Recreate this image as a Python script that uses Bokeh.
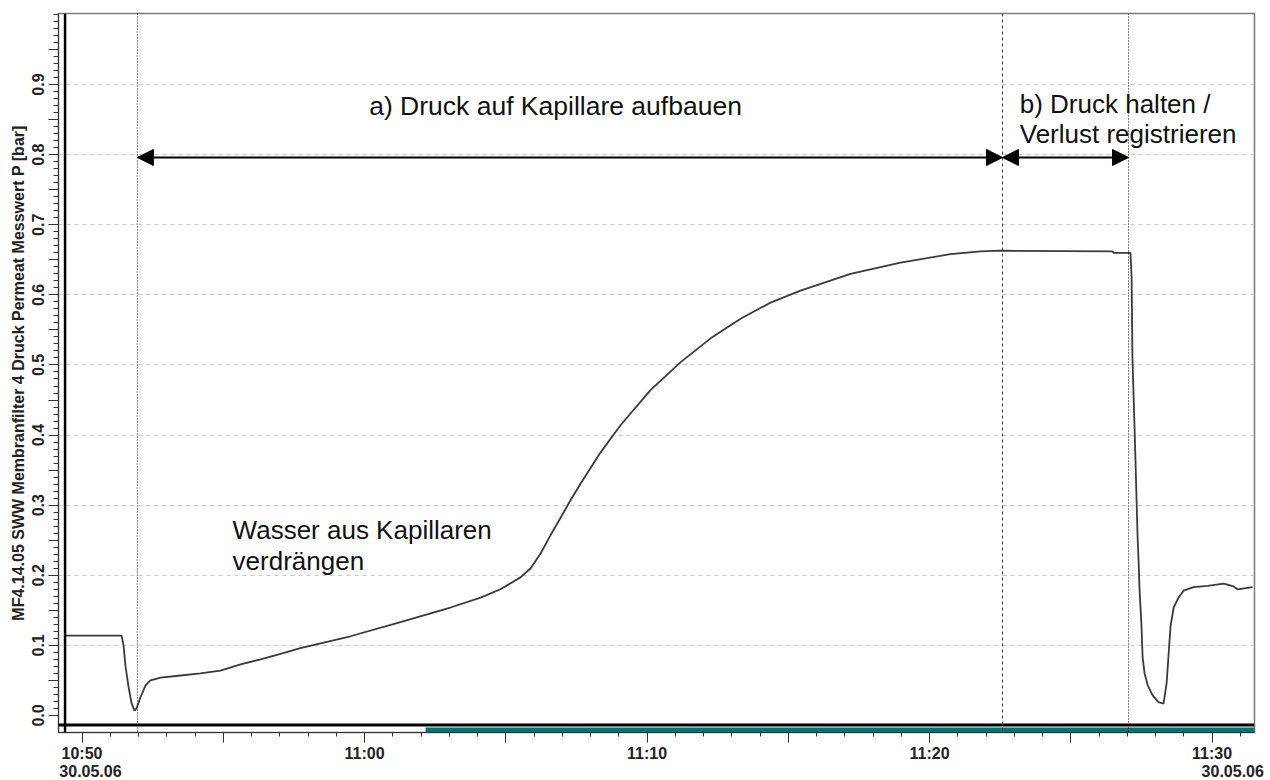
from bokeh.plotting import figure
from bokeh.models import (Range1d, FixedTicker, Span, Label, Arrow, NormalHead,
                          ColumnDataSource, LinearAxis)
from bokeh.embed import file_html
from bokeh.resources import INLINE

# ---- data: time in minutes after 10:50 (30.05.06), pressure in bar ----
t_min = [-0.58, 1.40, 1.47, 1.54, 1.65, 1.75, 1.86, 1.93, 2.07, 2.25, 2.42, 2.78, 3.49, 4.19,
         4.90, 5.61, 6.32, 7.03, 7.73, 9.50, 11.27, 13.04, 14.11, 14.81, 15.52, 15.88, 16.23,
         16.58, 16.94, 17.29, 17.65, 18.35, 19.06, 20.12, 21.19, 22.25, 23.31, 24.37, 25.43,
         27.20, 28.97, 30.74, 31.81, 32.51, 36.48, 36.51, 37.11, 37.15, 37.18, 37.25, 37.29,
         37.36, 37.40, 37.43, 37.50, 37.54, 37.61, 37.72, 37.89, 38.10, 38.28, 38.39, 38.46,
         38.53, 38.64, 38.81, 38.99, 39.34, 39.84, 40.41, 40.76, 40.90, 41.43]
pressure_bar = [0.114, 0.114, 0.100, 0.070, 0.040, 0.018, 0.007, 0.010, 0.026, 0.043, 0.050,
                0.054, 0.057, 0.060, 0.064, 0.073, 0.080, 0.088, 0.096, 0.113, 0.133, 0.154,
                0.168, 0.180, 0.197, 0.210, 0.231, 0.257, 0.282, 0.307, 0.331, 0.375, 0.414,
                0.464, 0.504, 0.538, 0.566, 0.589, 0.606, 0.630, 0.646, 0.658, 0.662, 0.663,
                0.662, 0.660, 0.660, 0.625, 0.510, 0.417, 0.360, 0.257, 0.217, 0.181, 0.128,
                0.083, 0.060, 0.043, 0.029, 0.019, 0.017, 0.046, 0.088, 0.128, 0.154, 0.168,
                0.178, 0.183, 0.185, 0.188, 0.184, 0.180, 0.183]

x_tick_minutes = [0, 10, 20, 30, 40]
x_tick_labels = ["10:50", "11:00", "11:10", "11:20", "11:30"]
x_mid_ticks = [5, 15, 25, 35]
x_minor_ticks = list(range(0, 42))
date_positions = [0.30, 40.73]
date_labels = ["30.05.06", "30.05.06"]

y_tick_values = [0.0, 0.1, 0.2, 0.3, 0.4, 0.5, 0.6, 0.7, 0.8, 0.9]
y_tick_labels = ["0.0", "0.1", "0.2", "0.3", "0.4", "0.5", "0.6", "0.7", "0.8", "0.9"]
y_mid_ticks = [0.05, 0.15, 0.25, 0.35, 0.45, 0.55, 0.65, 0.75, 0.85, 0.95]
y_grid_values = [0.1, 0.2, 0.3, 0.4, 0.5, 0.6, 0.7, 0.8, 0.9]

phase_times = [1.96, 32.58, 37.04]      # start / end build-up / end hold
phase_arrow_level = 0.796
scroll_start = 12.16                    # teal part of time scroll bar

y_label = "MF4.14.05 SWW Membranfilter 4 Druck Permeat Messwert P [bar]"
text_a = "a) Druck auf Kapillare aufbauen"
text_b1 = "b) Druck  halten /"
text_b2 = "Verlust registrieren"
text_w1 = "Wasser aus Kapillaren"
text_w2 = "verdrängen"

X0, X1 = -0.832, 41.50
Y0, Y1 = -0.0243, 1.0014

p = figure(width=1270, height=780, output_backend="svg", toolbar_location=None,
           x_range=Range1d(X0, X1), y_range=Range1d(Y0, Y1),
           min_border_left=58, min_border_right=16, min_border_top=13, min_border_bottom=48)
p.background_fill_color = "white"
p.border_fill_color = "white"
p.outline_line_color = "#7a7a7a"
p.outline_line_width = 1.5

# grids
p.xgrid.visible = False
p.ygrid.ticker = FixedTicker(ticks=y_grid_values)
p.ygrid.grid_line_color = "#c8c8c8"
p.ygrid.grid_line_dash = "4 4"
p.ygrid.grid_line_width = 1

TICK_FONT = "Liberation Sans"

# x axis
xa = p.xaxis[0]
xa.ticker = FixedTicker(ticks=x_tick_minutes + x_mid_ticks, minor_ticks=x_minor_ticks)
ov = {m: lab for m, lab in zip(x_tick_minutes, x_tick_labels)}
ov.update({m: "" for m in x_mid_ticks})
xa.major_label_overrides = ov
xa.major_tick_out = 10
xa.major_tick_in = 0
xa.minor_tick_out = 4
xa.minor_tick_in = 0
xa.major_label_standoff = 2
xa.major_label_text_font = TICK_FONT
xa.major_label_text_font_style = "bold"
xa.major_label_text_font_size = "16px"
xa.major_label_text_color = "#222222"
xa.axis_line_color = "#333333"
xa.major_tick_line_color = "#333333"
xa.minor_tick_line_color = "#333333"

# second row of x labels: the date under first and last time tick
da = LinearAxis(ticker=FixedTicker(ticks=date_positions, minor_ticks=[]),
                major_label_overrides={d: s for d, s in zip(date_positions, date_labels)})
da.major_tick_out = 0
da.major_tick_in = 0
da.minor_tick_out = 0
da.axis_line_color = None
da.major_tick_line_color = None
da.minor_tick_line_color = None
da.major_label_standoff = 0
da.major_label_text_font = TICK_FONT
da.major_label_text_font_style = "bold"
da.major_label_text_font_size = "16px"
da.major_label_text_color = "#222222"
p.add_layout(da, "below")

# y axis
ya = p.yaxis[0]
ya.ticker = FixedTicker(ticks=y_tick_values + y_mid_ticks,
                        minor_ticks=[round(k * 0.01, 2) for k in range(0, 101)])
yov = {v: lab for v, lab in zip(y_tick_values, y_tick_labels)}
yov.update({v: "" for v in y_mid_ticks})
ya.major_label_overrides = yov
ya.major_label_orientation = "vertical"
ya.major_tick_out = 10
ya.major_tick_in = 0
ya.minor_tick_out = 5
ya.minor_tick_in = 0
ya.major_label_standoff = 4
ya.major_label_text_font = TICK_FONT
ya.major_label_text_font_style = "bold"
ya.major_label_text_font_size = "16px"
ya.major_label_text_color = "#222222"
ya.axis_label = y_label
ya.axis_label_text_font = TICK_FONT
ya.axis_label_text_font_style = "bold"
ya.axis_label_text_font_size = "16px"
ya.axis_label_text_color = "#222222"
ya.axis_label_standoff = 3
ya.axis_line_color = "#333333"
ya.major_tick_line_color = "#333333"
ya.minor_tick_line_color = "#333333"

# scroll bars / thick plot-area border
sb = ColumnDataSource(dict(left=[scroll_start], right=[X1], top=[Y0 + 0.0072], bottom=[Y0]))
p.quad(left="left", right="right", top="top", bottom="bottom", source=sb,
       fill_color="#007575", line_color=None)
p.add_layout(Span(location=-0.0136, dimension="width", line_color="black", line_width=3))
p.add_layout(Span(location=-0.60, dimension="height", line_color="black", line_width=2.5))

# phase separators
p.add_layout(Span(location=phase_times[0], dimension="height", line_color="black",
                  line_width=1, line_dash="1 2"))
p.add_layout(Span(location=phase_times[1], dimension="height", line_color="#333333",
                  line_width=1, line_dash="3 3"))
p.add_layout(Span(location=phase_times[2], dimension="height", line_color="black",
                  line_width=1, line_dash="1 2"))

# curve
src = ColumnDataSource(dict(t=t_min, p=pressure_bar))
p.line("t", "p", source=src, line_color="#3a3a3a", line_width=1.8)

# arrows
for a, b in [(phase_times[0], phase_times[1]), (phase_times[1], phase_times[2])]:
    p.add_layout(Arrow(x_start=a, y_start=phase_arrow_level, x_end=b, y_end=phase_arrow_level,
                       line_color="black", line_width=2,
                       start=NormalHead(size=16, fill_color="black", line_color="black"),
                       end=NormalHead(size=16, fill_color="black", line_color="black")))

def lab(x, y, txt, align="left", size="26px"):
    p.add_layout(Label(x=x, y=y, text=txt, text_align=align, text_baseline="middle",
                       text_font="Liberation Sans", text_font_size=size,
                       text_color="#111111"))

lab(16.76, 0.869, text_a, align="center", size="26.5px")
lab(33.19, 0.873, text_b1)
lab(33.19, 0.829, text_b2)
lab(5.33, 0.264, text_w1)
lab(5.33, 0.220, text_w2)

open("out.html", "w").write(file_html(p, INLINE))
